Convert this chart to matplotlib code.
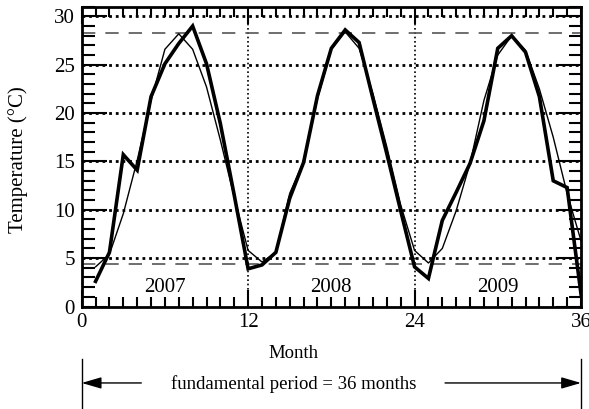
import matplotlib
matplotlib.use('Agg')
import matplotlib.pyplot as plt
import numpy as np
from matplotlib.ticker import MultipleLocator

plt.rcParams['font.family'] = ['Liberation Serif', 'DejaVu Serif']

# months 1..36
months = np.arange(1, 37)

# measured monthly temperature (thick line)
measured = [2.6, 5.6, 15.7, 14.1, 21.7, 25.1, 27.2, 29.0, 25.1, 18.9, 11.5, 3.9,
            4.3, 5.6, 11.2, 14.9, 21.8, 26.7, 28.6, 27.3, 21.5, 15.8, 9.9, 4.1,
            2.9, 8.9, 11.8, 14.8, 19.2, 26.7, 28.0, 26.3, 21.7, 13.0, 12.3, 1.3]

# fitted curve (thin line)
fitted = [4.1, 5.4, 9.6, 15.1, 21.3, 26.6, 28.2, 26.6, 22.7, 17.2, 11.3, 5.8,
          4.6, 5.6, 11.7, 15.0, 21.5, 26.6, 28.4, 26.7, 22.0, 16.5, 10.5, 5.8,
          4.5, 6.0, 9.9, 14.8, 21.3, 26.0, 28.0, 26.5, 22.5, 17.5, 11.7, 6.8]

years = ['2007', '2008', '2009']
year_pos = [6, 18, 30]
t_max = 28.3
t_min = 4.4

fs = 15
fs2 = 13.5

fig = plt.figure(figsize=(5.89, 4.09), dpi=100)
ax = fig.add_axes([0.1387, 0.2506, 0.8477, 0.733])

ax.set_xlim(0, 36)
ax.set_ylim(0, 31)

# grid
for yv in range(5, 31, 5):
    ax.axhline(yv, color='black', lw=2.0, ls=(0, (1, 1.4)), zorder=1)
for xv in [12, 24]:
    ax.axvline(xv, color='black', lw=1.2, ls=(0, (1, 1.6)), zorder=1)
ax.axhline(t_max, color='#555555', lw=1.2, ls=(0, (8, 6)), zorder=1)
ax.axhline(t_min, color='#555555', lw=1.2, ls=(0, (8, 6)), zorder=1)

ax.plot(months, fitted, color='black', lw=1.0, zorder=3)
ax.plot(months, measured, color='black', lw=2.6, zorder=4, solid_joinstyle='miter')

for yr, xp in zip(years, year_pos):
    ax.text(xp, 2.0, yr, ha='center', va='center', fontsize=fs)

ax.set_xticks([0, 12, 24, 36])
ax.xaxis.set_minor_locator(MultipleLocator(1))
ax.yaxis.set_major_locator(MultipleLocator(5))
ax.yaxis.set_minor_locator(MultipleLocator(1))
ax.tick_params(which='both', direction='in', top=True, right=True, width=1.5, labelsize=fs)
ax.tick_params(axis='x', which='major', length=12, pad=5)
ax.tick_params(axis='x', which='minor', length=7)
ax.tick_params(axis='y', which='major', length=18, pad=5)
ax.tick_params(axis='y', which='minor', length=9)
for s in ax.spines.values():
    s.set_linewidth(2.0)

ax.set_ylabel('Temperature (°C)', fontsize=fs)
ax.yaxis.set_label_coords(-0.108, 0.49)
ax.set_xlabel('Month', fontsize=fs2)
ax.xaxis.set_label_coords(0.425, -0.13)

# fundamental period annotation
y_arr = -0.255
ax.plot([0, 0], [-0.175, -0.42], transform=ax.get_xaxis_transform(), color='black', lw=1, clip_on=False)
ax.plot([36, 36], [-0.175, -0.42], transform=ax.get_xaxis_transform(), color='black', lw=1, clip_on=False)
ax.annotate('', xy=(0, y_arr), xytext=(4.3, y_arr), xycoords=('data', 'axes fraction'),
            textcoords=('data', 'axes fraction'),
            arrowprops=dict(arrowstyle='-|>,head_length=1.2,head_width=0.35', color='black', lw=1, shrinkA=0, shrinkB=0))
ax.annotate('', xy=(36, y_arr), xytext=(26.2, y_arr), xycoords=('data', 'axes fraction'),
            textcoords=('data', 'axes fraction'),
            arrowprops=dict(arrowstyle='-|>,head_length=1.2,head_width=0.35', color='black', lw=1, shrinkA=0, shrinkB=0))
ax.text(15.3, y_arr - 0.005, 'fundamental period = 36 months', transform=ax.get_xaxis_transform(),
        ha='center', va='center', fontsize=fs2)

fig.savefig('out.png', dpi=100)
